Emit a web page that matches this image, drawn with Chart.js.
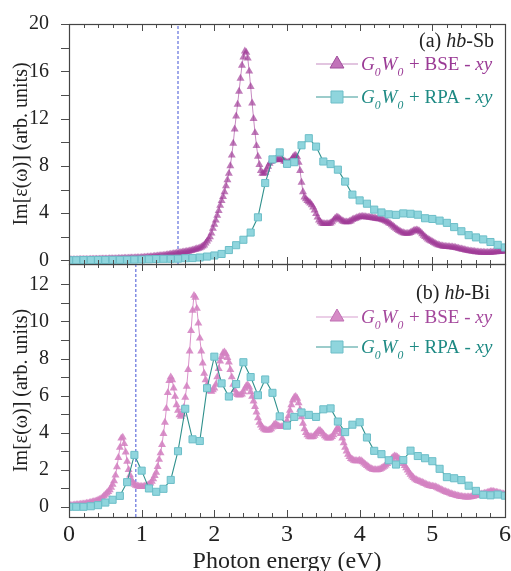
<!DOCTYPE html>
<html>
<head>
<meta charset="utf-8">
<title>Im[ε(ω)] hb-Sb / hb-Bi</title>
<script src="https://cdn.jsdelivr.net/npm/chart.js@4.4.0/dist/chart.umd.min.js"></script>
<style>
  body { margin: 0; background: #fff; }
  .wrap { position: relative; width: 511px; height: 571px; }
  .wrap canvas { position: absolute; left: 0; top: 0; }
</style>
</head>
<body>
<div class="wrap">
  <canvas id="biChart" width="511" height="571"></canvas>
  <canvas id="sbChart" width="511" height="571"></canvas>
</div>
<script>
// BSE spectra are sampled every 0.02 eV, RPA every 0.1 eV, both from 0 to 6 eV
const bseStep = 0.02;
const rpaStep = 0.1;

const xMajorTicks = [0, 1, 2, 3, 4, 5, 6];
const sbYTicks = [0, 4, 8, 12, 16, 20];
const biYTicks = [0, 2, 4, 6, 8, 10, 12];

// gap markers (eV)
const sbGap = 1.5;
const biGap = 0.92;

// (a) hb-Sb, G0W0 + BSE
const sbBse = [
  0.05, 0.05, 0.05, 0.06, 0.06, 0.06, 0.06, 0.07, 0.07, 0.07,
  0.07, 0.08, 0.08, 0.08, 0.08, 0.09, 0.09, 0.09, 0.1, 0.1,
  0.1, 0.1, 0.11, 0.11, 0.11, 0.12, 0.12, 0.12, 0.13, 0.13,
  0.13, 0.14, 0.14, 0.14, 0.15, 0.15, 0.16, 0.16, 0.17, 0.17,
  0.18, 0.18, 0.19, 0.19, 0.2, 0.2, 0.21, 0.22, 0.22, 0.23,
  0.24, 0.25, 0.26, 0.27, 0.28, 0.29, 0.3, 0.31, 0.32, 0.34,
  0.35, 0.36, 0.38, 0.39, 0.41, 0.42, 0.44, 0.46, 0.48, 0.5,
  0.52, 0.54, 0.56, 0.58, 0.6, 0.62, 0.64, 0.66, 0.68, 0.7,
  0.72, 0.74, 0.77, 0.8, 0.83, 0.86, 0.9, 0.94, 0.98, 1.01,
  1.05, 1.12, 1.2, 1.3, 1.45, 1.62, 1.8, 1.98, 2.3, 2.7,
  3.05, 3.4, 3.8, 4.2, 4.65, 5.05, 5.4, 5.8, 6.3, 6.8,
  7.35, 8.0, 8.9, 9.9, 11.1, 12.2, 13.2, 14.3, 15.4, 16.5,
  17.2, 17.7, 17.6, 17.1, 16.0, 14.7, 13.3, 12.0, 10.8, 9.7,
  8.8, 8.1, 7.6, 7.35, 7.35, 7.45, 7.7, 7.95, 8.2, 8.35,
  8.45, 8.5, 8.5, 8.55, 8.55, 8.55, 8.55, 8.5, 8.4, 8.35,
  8.3, 8.3, 8.35, 8.5, 8.7, 8.85, 8.9, 8.75, 8.3, 7.6,
  6.6, 5.8, 5.35, 5.2, 5.05, 4.95, 4.85, 4.7, 4.5, 4.25,
  3.95, 3.65, 3.4, 3.25, 3.15, 3.1, 3.1, 3.1, 3.1, 3.12,
  3.15, 3.25, 3.4, 3.55, 3.65, 3.65, 3.55, 3.45, 3.35, 3.3,
  3.25, 3.25, 3.25, 3.3, 3.35, 3.45, 3.5, 3.55, 3.6, 3.65,
  3.68, 3.7, 3.7, 3.7, 3.68, 3.66, 3.65, 3.64, 3.62, 3.6,
  3.58, 3.56, 3.54, 3.52, 3.5, 3.47, 3.43, 3.38, 3.32, 3.25,
  3.18, 3.1, 3.0, 2.9, 2.8, 2.7, 2.6, 2.52, 2.45, 2.38,
  2.33, 2.3, 2.28, 2.28, 2.3, 2.35, 2.42, 2.5, 2.55, 2.57,
  2.55, 2.48, 2.38, 2.25, 2.12, 2.0, 1.9, 1.8, 1.72, 1.65,
  1.58, 1.5, 1.43, 1.37, 1.32, 1.28, 1.24, 1.21, 1.19, 1.18,
  1.17, 1.16, 1.15, 1.14, 1.12, 1.1, 1.08, 1.05, 1.02, 0.99,
  0.96, 0.93, 0.9, 0.87, 0.84, 0.82, 0.8, 0.78, 0.76, 0.74,
  0.72, 0.71, 0.7, 0.69, 0.68, 0.68, 0.67, 0.67, 0.67, 0.67,
  0.68, 0.69, 0.7, 0.71, 0.72, 0.73, 0.74, 0.75, 0.77, 0.79,
  0.8,
];

// (a) hb-Sb, G0W0 + RPA
const sbRpa = [
  0.02, 0.02, 0.03, 0.03, 0.04, 0.04, 0.05, 0.05, 0.06, 0.07,
  0.08, 0.1, 0.12, 0.14, 0.14, 0.15, 0.19, 0.2, 0.25, 0.33,
  0.42, 0.55, 0.88, 1.29, 1.75, 2.36, 3.65, 6.55, 8.55, 9.14,
  8.17, 8.31, 9.74, 10.34, 9.63, 8.37, 8.15, 7.68, 6.67, 5.57,
  5.08, 4.8, 4.3, 4.06, 3.9, 3.86, 3.98, 3.95, 3.87, 3.57,
  3.51, 3.37, 3.18, 2.82, 2.47, 2.14, 1.95, 1.78, 1.56, 1.32,
  1.1,
];

// (b) hb-Bi, G0W0 + BSE
const biBse = [
  0.05, 0.06, 0.07, 0.08, 0.09, 0.1, 0.11, 0.12, 0.13, 0.14,
  0.15, 0.16, 0.18, 0.19, 0.21, 0.23, 0.25, 0.27, 0.29, 0.31,
  0.36, 0.39, 0.43, 0.5, 0.58, 0.66, 0.74, 0.82, 0.91, 1.04,
  1.2, 1.4, 1.7, 2.15, 2.65, 3.2, 3.7, 3.75, 3.4, 2.95,
  2.45, 2.0, 1.7, 1.45, 1.3, 1.2, 1.15, 1.12, 1.1, 1.09,
  1.09, 1.09, 1.1, 1.12, 1.15, 1.2, 1.27, 1.37, 1.5, 1.68,
  1.85, 2.17, 2.55, 2.9, 3.35, 3.95, 4.55, 5.3, 6.15, 6.8,
  7.0, 6.85, 6.4, 5.95, 5.5, 5.2, 4.95, 4.88, 5.0, 5.35,
  5.9, 6.5, 7.4, 8.4, 9.5, 10.6, 11.4, 11.3, 10.7, 9.9,
  9.1, 8.4, 7.75, 7.2, 6.85, 6.6, 6.4, 6.25, 6.22, 6.3,
  6.4, 6.6, 7.0, 7.45, 7.85, 8.1, 8.3, 8.35, 8.25, 8.05,
  7.8, 7.4, 7.0, 6.6, 6.3, 6.12, 6.05, 6.02, 6.03, 6.08,
  6.2, 6.38, 6.52, 6.57, 6.45, 6.2, 5.95, 5.7, 5.4, 5.1,
  4.8, 4.55, 4.4, 4.28, 4.2, 4.15, 4.13, 4.13, 4.15, 4.2,
  4.3, 4.42, 4.48, 4.42, 4.36, 4.32, 4.32, 4.32, 4.35, 4.45,
  4.65, 4.9, 5.2, 5.5, 5.75, 5.9, 5.95, 5.85, 5.6, 5.25,
  4.85, 4.5, 4.2, 4.0, 3.88, 3.8, 3.77, 3.77, 3.78, 3.85,
  3.95, 4.05, 4.12, 4.1, 4.02, 3.92, 3.82, 3.75, 3.7, 3.7,
  3.72, 3.78, 3.88, 4.02, 4.18, 4.25, 4.15, 3.95, 3.7, 3.45,
  3.2, 3.0, 2.82, 2.7, 2.6, 2.55, 2.5, 2.48, 2.48, 2.48,
  2.5, 2.48, 2.42, 2.35, 2.28, 2.22, 2.15, 2.1, 2.05, 2.02,
  2.0, 1.99, 1.99, 2.0, 2.03, 2.07, 2.12, 2.18, 2.25, 2.33,
  2.42, 2.5, 2.6, 2.68, 2.73, 2.72, 2.67, 2.6, 2.52, 2.43,
  2.33, 2.22, 2.1, 1.98, 1.86, 1.75, 1.65, 1.57, 1.5, 1.45,
  1.41, 1.38, 1.35, 1.32, 1.28, 1.24, 1.2, 1.17, 1.14, 1.12,
  1.1, 1.09, 1.08, 1.05, 1.01, 0.97, 0.93, 0.89, 0.85, 0.82,
  0.79, 0.76, 0.73, 0.7, 0.67, 0.65, 0.62, 0.6, 0.58, 0.56,
  0.55, 0.54, 0.53, 0.52, 0.52, 0.52, 0.53, 0.54, 0.56, 0.58,
  0.6, 0.62, 0.64, 0.66, 0.68, 0.7, 0.72, 0.74, 0.77, 0.8,
  0.82, 0.83, 0.82, 0.8, 0.78, 0.76, 0.74, 0.72, 0.7, 0.68,
  0.66,
];

// (b) hb-Bi, G0W0 + RPA
const biRpa = [
  0.0, 0.0, 0.0, 0.03, 0.09, 0.23, 0.38, 0.59, 1.33, 2.8,
  1.95, 0.99, 0.81, 0.97, 1.45, 3.0, 5.29, 3.64, 3.55, 6.4,
  8.1, 6.66, 5.95, 6.62, 7.8, 7.0, 6.02, 6.87, 6.15, 4.88,
  4.38, 4.85, 5.09, 4.96, 4.85, 5.26, 5.31, 4.6, 4.03, 4.43,
  4.56, 3.74, 3.02, 2.84, 2.51, 2.28, 2.52, 3.03, 2.74, 2.62,
  2.46, 2.05, 1.6, 1.54, 1.44, 1.14, 0.86, 0.65, 0.62, 0.66,
  0.6,
];

const serif = '"Liberation Serif", "DejaVu Serif", serif';

function toPoints(values, step) {
  return values.map((v, i) => ({ x: +(i * step).toFixed(2), y: v }));
}

function drawRuns(ctx, runs, x, y, size) {
  for (const r of runs) {
    const fs = r.sub ? size * 0.62 : size;
    ctx.font = `${r.italic ? "italic " : ""}${fs}px ${serif}`;
    ctx.fillText(r.t, x, y + (r.sub ? size * 0.3 : 0));
    x += ctx.measureText(r.t).width + (r.sub ? 1 : 0);
  }
  return x;
}

function runsWidth(ctx, runs, size) {
  let w = 0;
  for (const r of runs) {
    const fs = r.sub ? size * 0.62 : size;
    ctx.font = `${r.italic ? "italic " : ""}${fs}px ${serif}`;
    w += ctx.measureText(r.t).width + (r.sub ? 1 : 0);
  }
  return w;
}

function legendRuns(method) {
  return [
    { t: "G", italic: true },
    { t: "0", italic: true, sub: true },
    { t: "W", italic: true },
    { t: "0", italic: true, sub: true },
    { t: ` + ${method} - ` },
    { t: "xy", italic: true },
  ];
}

function drawMarker(ctx, style, x, y, r) {
  ctx.beginPath();
  if (style === "triangle") {
    ctx.moveTo(x, y - r);
    ctx.lineTo(x + r * 0.866, y + r * 0.5);
    ctx.lineTo(x - r * 0.866, y + r * 0.5);
    ctx.closePath();
  } else {
    const s = r * Math.SQRT1_2;
    ctx.rect(x - s, y - s, 2 * s, 2 * s);
  }
  ctx.fill();
  ctx.stroke();
}

// frame, inward x ticks, outward y ticks, panel label and legend
const panelDecor = {
  id: "panelDecor",
  afterDraw(chart, args, opts) {
    const { ctx, chartArea: a } = chart;
    const xs = chart.scales.x;
    const ys = chart.scales.y;
    ctx.save();
    ctx.strokeStyle = "#4d4d4d";
    ctx.lineWidth = 1;

    for (let i = 0; i <= 30; i++) {
      const v = i * 0.2;
      const px = Math.round(xs.getPixelForValue(v)) + 0.5;
      const len = xMajorTicks.includes(+v.toFixed(2)) ? 7 : 4;
      ctx.beginPath();
      ctx.moveTo(px, a.bottom);
      ctx.lineTo(px, a.bottom - len);
      ctx.moveTo(px, a.top);
      ctx.lineTo(px, a.top + len);
      ctx.stroke();
    }

    const yt = opts.yTicks;
    const half = (yt[1] - yt[0]) / 2;
    for (let v = yt[0]; v <= yt[yt.length - 1] + 1e-9; v += half) {
      const py = Math.round(ys.getPixelForValue(v)) + 0.5;
      ctx.beginPath();
      ctx.moveTo(a.left, py);
      ctx.lineTo(a.left - 8, py);
      ctx.stroke();
    }

    ctx.strokeStyle = "#444";
    ctx.lineWidth = 1.2;
    ctx.strokeRect(a.left + 0.5, a.top + 0.5, a.right - a.left, a.bottom - a.top);

    // panel label, right aligned
    ctx.fillStyle = "#222";
    ctx.textBaseline = "alphabetic";
    const lw = runsWidth(ctx, opts.label, 20);
    drawRuns(ctx, opts.label, opts.labelRight - lw, opts.labelY, 20);

    // legend entries
    opts.legend.forEach((item) => {
      ctx.strokeStyle = item.lineColor;
      ctx.lineWidth = 1.2;
      ctx.beginPath();
      ctx.moveTo(316, item.y);
      ctx.lineTo(358, item.y);
      ctx.stroke();
      ctx.fillStyle = item.fill;
      ctx.strokeStyle = item.edge;
      ctx.lineWidth = 1;
      drawMarker(ctx, item.style, 337, item.y, item.style === "triangle" ? 8 : 8.5);
      ctx.fillStyle = item.textColor;
      drawRuns(ctx, legendRuns(item.method), 361, item.y + 6, 19);
    });
    ctx.restore();
  },
};

function makePanel(canvasId, cfg) {
  const showX = cfg.showX;
  return new Chart(document.getElementById(canvasId), {
    type: "line",
    data: {
      datasets: [
        {
          label: "G0W0 + RPA - xy",
          data: toPoints(cfg.rpa, rpaStep),
          borderColor: "#2f908c",
          borderWidth: 1.1,
          pointStyle: "rect",
          pointRadius: 5,
          pointBackgroundColor: "#8fd5dd",
          pointBorderColor: "#6cbec8",
          pointBorderWidth: 1,
          tension: 0,
        },
        {
          label: "G0W0 + BSE - xy",
          data: toPoints(cfg.bse, bseStep),
          borderColor: cfg.bseLine,
          borderWidth: 1,
          pointStyle: "triangle",
          pointRadius: 4.6,
          pointBackgroundColor: cfg.bseFill,
          pointBorderWidth: 0,
          tension: 0,
        },
        {
          label: "gap",
          data: [
            { x: cfg.gap, y: cfg.yMin },
            { x: cfg.gap, y: cfg.yMax },
          ],
          borderColor: "#4152d4",
          borderWidth: 1,
          borderDash: [3, 2],
          pointRadius: 0,
        },
      ],
    },
    options: {
      responsive: false,
      animation: false,
      layout: {
        padding: { top: cfg.padTop, right: 3.5, bottom: cfg.padBottom, left: 0 },
      },
      plugins: {
        legend: { display: false },
        tooltip: { enabled: false },
        panelDecor: {
          yTicks: cfg.yTicks,
          label: cfg.label,
          labelRight: cfg.labelRight,
          labelY: cfg.labelY,
          legend: cfg.legend,
        },
      },
      scales: {
        x: {
          type: "linear",
          min: 0,
          max: 6,
          display: showX,
          grid: { display: false },
          border: { display: false },
          afterBuildTicks: (axis) => {
            axis.ticks = xMajorTicks.map((v) => ({ value: v }));
          },
          afterFit: (axis) => {
            if (showX) axis.height = 54;
          },
          ticks: {
            color: "#222",
            padding: -5,
            maxRotation: 0,
            font: { family: serif, size: 24 },
          },
          title: {
            display: true,
            text: "Photon energy (eV)",
            color: "#222",
            padding: { top: 0, bottom: -5 },
            font: { family: serif, size: 24 },
          },
        },
        y: {
          min: cfg.yMin,
          max: cfg.yMax,
          grid: { display: false },
          border: { display: false },
          afterBuildTicks: (axis) => {
            axis.ticks = cfg.yTicks.map((v) => ({ value: v }));
          },
          afterFit: (axis) => {
            axis.width = 69;
          },
          ticks: {
            color: "#222",
            padding: 12,
            font: { family: serif, size: 20 },
          },
          title: {
            display: true,
            text: "Im[ε(ω)] (arb. units)",
            color: "#222",
            padding: { top: 10, bottom: 0 },
            font: { family: serif, size: 20 },
          },
        },
      },
    },
    plugins: [panelDecor],
  });
}

makePanel("sbChart", {
  showX: false,
  padTop: 18,
  padBottom: 307,
  yMin: -0.3,
  yMax: 20,
  yTicks: sbYTicks,
  gap: sbGap,
  bse: sbBse,
  rpa: sbRpa,
  bseFill: "rgba(160, 60, 152, 0.68)",
  bseLine: "rgba(160, 60, 152, 0.6)",
  label: [{ t: "(a) " }, { t: "hb", italic: true }, { t: "-Sb" }],
  labelRight: 494,
  labelY: 47,
  legend: [
    { method: "BSE", style: "triangle", y: 64, lineColor: "#c68bc2", fill: "#c173b9", edge: "#a04e9c", textColor: "#9a3a95" },
    { method: "RPA", style: "rect", y: 97, lineColor: "#3a9a98", fill: "#8fd5dd", edge: "#6cbec8", textColor: "#1e8a84" },
  ],
});

makePanel("biChart", {
  showX: true,
  padTop: 264,
  padBottom: 0,
  yMin: -0.55,
  yMax: 13.1,
  yTicks: biYTicks,
  gap: biGap,
  bse: biBse,
  rpa: biRpa,
  bseFill: "rgba(212, 130, 194, 0.88)",
  bseLine: "rgba(212, 130, 194, 0.88)",
  label: [{ t: "(b) " }, { t: "hb", italic: true }, { t: "-Bi" }],
  labelRight: 490,
  labelY: 299,
  legend: [
    { method: "BSE", style: "triangle", y: 317, lineColor: "#d7a0d0", fill: "#d68bc6", edge: "#c070b4", textColor: "#a4479c" },
    { method: "RPA", style: "rect", y: 347, lineColor: "#3a9a98", fill: "#8fd5dd", edge: "#6cbec8", textColor: "#1e8a84" },
  ],
});
</script>
</body>
</html>
